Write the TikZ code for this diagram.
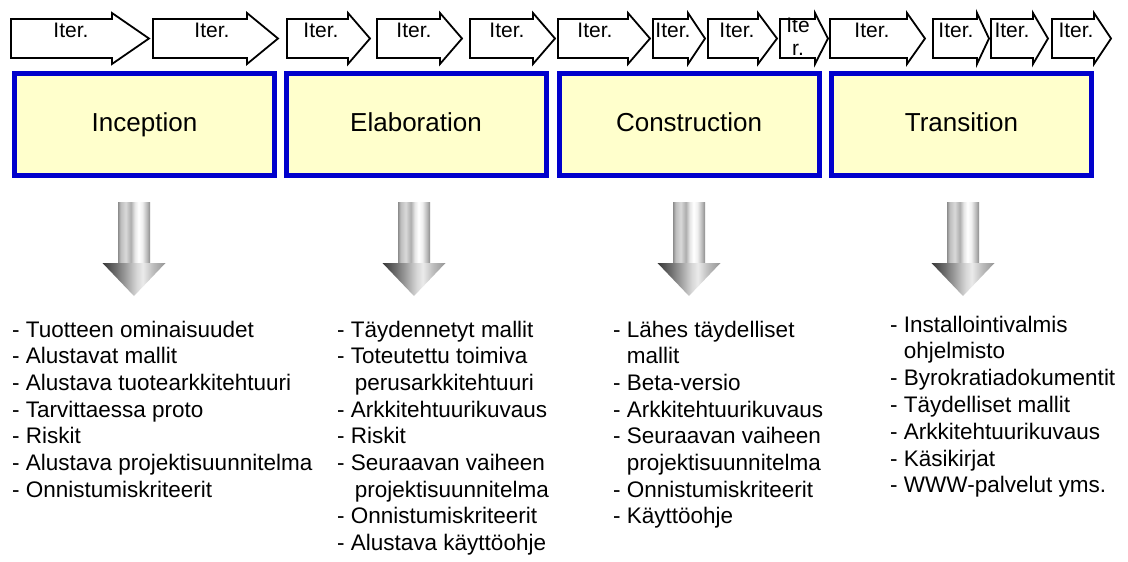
\documentclass[tikz,border=0pt]{standalone}
\usepackage{fontspec}
\setmainfont{Liberation Sans}
\definecolor{phaseblue}{RGB}{0,0,204}
\definecolor{phasefill}{RGB}{255,255,204}
% metallic look of the downward block arrows
\pgfdeclarehorizontalshading{shaftmetal}{100bp}{color(0bp)=(black!45); color(25bp)=(black!45); color(29bp)=(black!26); color(37bp)=(black!15); color(45bp)=(black!32); color(51bp)=(black!10); color(57bp)=(white); color(63bp)=(black!6); color(71bp)=(black!30); color(75bp)=(black!45); color(100bp)=(black!45)}
\pgfdeclarehorizontalshading{headmetal}{100bp}{color(0bp)=(black!78); color(25bp)=(black!78); color(35bp)=(black!58); color(45bp)=(black!34); color(52bp)=(black!16); color(57bp)=(black!8); color(65bp)=(black!26); color(75bp)=(black!42); color(100bp)=(black!42)}
\begin{document}
\begin{tikzpicture}[x=1pt,y=-1pt,
  iterarrow/.style={draw=black, line width=1.8pt, fill=white, line join=miter},
  iterlabel/.style={font=\fontsize{21}{23}\selectfont, inner sep=0pt, anchor=north, align=center},
  phasebox/.style={draw=phaseblue, line width=5pt, fill=phasefill,
    minimum width=260pt, minimum height=102pt, inner sep=0pt,
    text height=19pt, text depth=6pt, font=\fontsize{26}{31}\selectfont},
  itemline/.style={font=\fontsize{22.5}{27}\selectfont, inner sep=0pt, anchor=base west},
]
\fill[white] (0,0) rectangle (1128,562);
\useasboundingbox (0,0) rectangle (1128,562);

% row of iteration arrows: body left / head base / tip / label x / label top / label
\foreach \a/\b/\c/\m/\ty/\lbl [count=\i] in {
  11/112/149/71/22.5/{Iter.}, 153/247/278/212/22.5/{Iter.},
  287/348/370/321/22.5/{Iter.}, 377/440/462/414/22.5/{Iter.},
  470/533/555/507/22.5/{Iter.}, 558/628/650/595/22.5/{Iter.},
  653/688/705/673/22.5/{Iter.}, 708/758/777/737/22.5/{Iter.},
  780/815/828/798/17.5/{Ite\\r.}, 830/907/925/872/22.5/{Iter.},
  933/977/989/956/22.5/{Iter.}, 991/1033/1048/1012/22.5/{Iter.},
  1052/1094/1111/1076/22.5/{Iter.}}{
  \draw[iterarrow] (\a,19) -- (\b,19) -- (\b,13) -- (\c,38.5) -- (\b,64) -- (\b,58) -- (\a,58) -- cycle;
  \node[iterlabel] (it\i) at (\m,\ty) {\lbl};
}

% phase boxes
\node[phasebox] (inception) at (144.5,124.5) {Inception};
\node[phasebox] (elaboration) at (416,124.5) {Elaboration};
\node[phasebox] (construction) at (689,124.5) {Construction};
\node[phasebox] (transition) at (961.5,124.5) {Transition};

% shaded downward arrows
\foreach \cx in {134,414,689,963}{
  \shade[shading=shaftmetal] (\cx-16,202) rectangle (\cx+16,263.5);
  \shade[shading=headmetal] (\cx-31.5,263) -- (\cx+31.5,263) -- (\cx,296) -- cycle;
}

% deliverables of each phase
\foreach \t [count=\i from 0] in {
  {- Tuotteen ominaisuudet}, {- Alustavat mallit}, {- Alustava tuotearkkitehtuuri},
  {- Tarvittaessa proto}, {- Riskit}, {- Alustava projektisuunnitelma},
  {- Onnistumiskriteerit}}{
  \node[itemline] (inc-\i) at (12,{337+26.7*\i}) {\t};
}
\foreach \t [count=\i from 0] in {
  {- Täydennetyt mallit}, {- Toteutettu toimiva},
  {\hphantom{- }\hspace{4pt}perusarkkitehtuuri}, {- Arkkitehtuurikuvaus}, {- Riskit},
  {- Seuraavan vaiheen}, {\hphantom{- }\hspace{4pt}projektisuunnitelma},
  {- Onnistumiskriteerit}, {- Alustava käyttöohje}}{
  \node[itemline] (ela-\i) at (337,{337+26.7*\i}) {\t};
}
\foreach \t [count=\i from 0] in {
  {- Lähes täydelliset}, {\hphantom{- }mallit}, {- Beta-versio},
  {- Arkkitehtuurikuvaus}, {- Seuraavan vaiheen}, {\hphantom{- }projektisuunnitelma},
  {- Onnistumiskriteerit}, {- Käyttöohje}}{
  \node[itemline] (con-\i) at (613,{337+26.7*\i}) {\t};
}
\foreach \t [count=\i from 0] in {
  {- Installointivalmis}, {\hphantom{- }ohjelmisto}, {- Byrokratiadokumentit},
  {- Täydelliset mallit}, {- Arkkitehtuurikuvaus}, {- Käsikirjat},
  {- WWW-palvelut yms.}}{
  \node[itemline] (tra-\i) at (890,{332+26.8*\i}) {\t};
}
\end{tikzpicture}
\end{document}
